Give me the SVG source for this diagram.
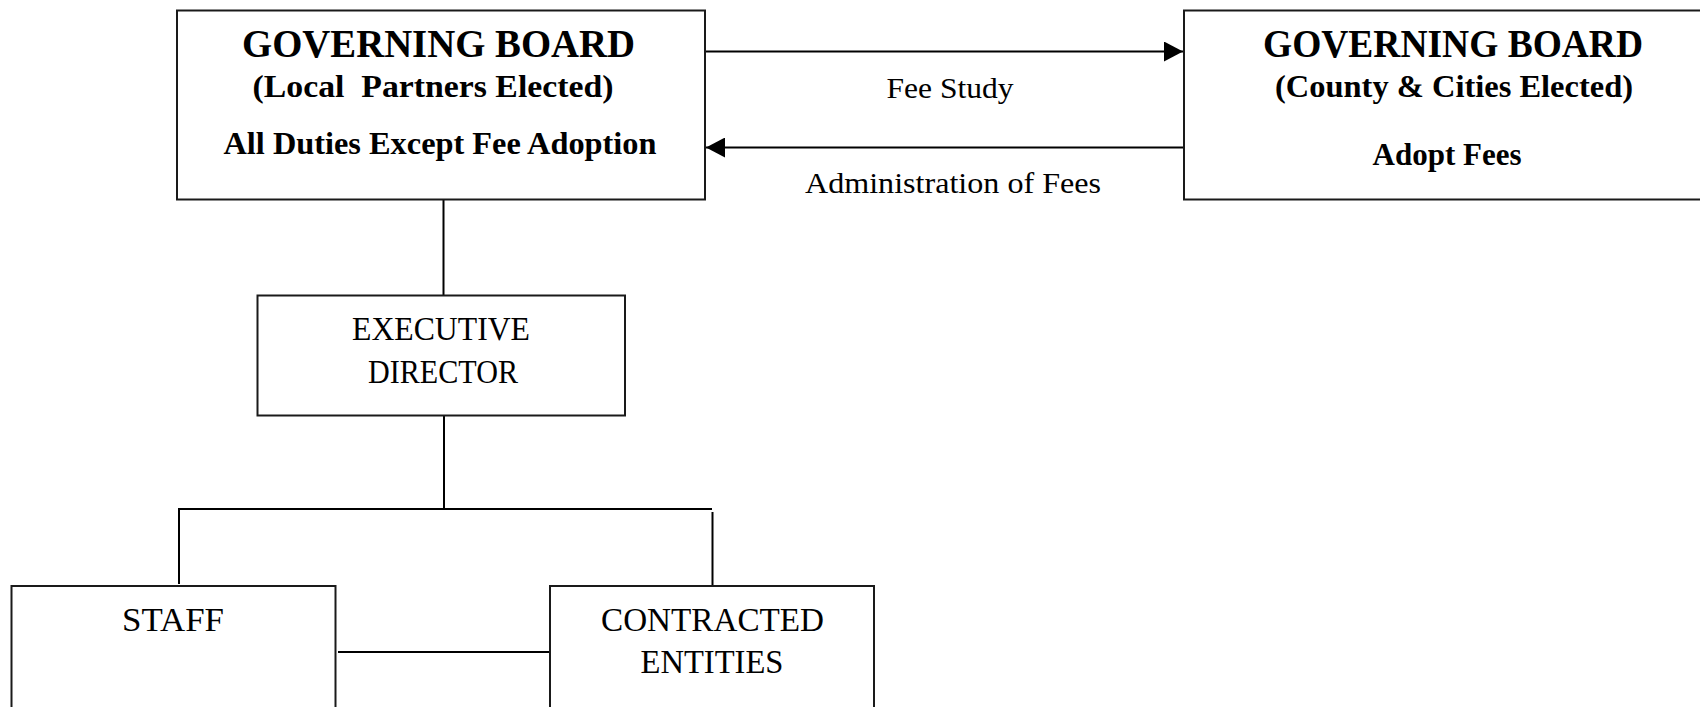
<svg xmlns="http://www.w3.org/2000/svg" width="1700" height="707" viewBox="0 0 1700 707">
  <style>
    .box { fill: #ffffff; stroke: #1a1a1a; stroke-width: 2; }
    .ln { stroke: #000000; stroke-width: 2; fill: none; }
    .t { font-family: "Liberation Serif", "Times New Roman", serif; fill: #000000; text-anchor: middle; }
    .b { font-weight: bold; }
    .big { font-size: 39px; }
    .mid { font-size: 32px; }
    .reg { font-size: 33px; }
    .lbl { font-size: 30px; }
  </style>
  <defs>
    <marker id="arrow" markerWidth="20" markerHeight="20" refX="19" refY="10" orient="auto" markerUnits="userSpaceOnUse">
      <path d="M0,0 L19,10 L0,20 Z" fill="#000000"/>
    </marker>
  </defs>
  <rect width="1700" height="707" fill="#ffffff"/>

  <g id="connectors">
    <line class="ln" x1="705" y1="51.5" x2="1183" y2="51.5" marker-end="url(#arrow)"/>
    <line class="ln" x1="1184" y1="147.5" x2="706" y2="147.5" marker-end="url(#arrow)"/>
    <line class="ln" x1="443.5" y1="200" x2="443.5" y2="295"/>
    <line class="ln" x1="444" y1="416" x2="444" y2="510"/>
    <line class="ln" x1="178" y1="509" x2="712" y2="509"/>
    <line class="ln" x1="179" y1="508" x2="179" y2="584"/>
    <line class="ln" x1="712.5" y1="512" x2="712.5" y2="586"/>
    <line class="ln" x1="338" y1="652" x2="550" y2="652"/>
    <text class="t lbl" x="950" y="98" textLength="127" lengthAdjust="spacingAndGlyphs">Fee Study</text>
    <text class="t lbl" x="953" y="193" textLength="296" lengthAdjust="spacingAndGlyphs">Administration of Fees</text>
  </g>

  <g id="board-local">
    <rect class="box" x="177" y="10.5" width="528" height="189"/>
    <text class="t b big" x="438.5" y="57" textLength="393" lengthAdjust="spacingAndGlyphs">GOVERNING BOARD</text>
    <text class="t b mid" x="433" y="97" textLength="361" lengthAdjust="spacingAndGlyphs" xml:space="preserve">(Local  Partners Elected)</text>
    <text class="t b mid" x="440" y="154" textLength="433" lengthAdjust="spacingAndGlyphs">All Duties Except Fee Adoption</text>
  </g>

  <g id="board-county">
    <rect class="box" x="1184" y="10.5" width="530" height="189"/>
    <text class="t b big" x="1453" y="57" textLength="380" lengthAdjust="spacingAndGlyphs">GOVERNING BOARD</text>
    <text class="t b mid" x="1454" y="97" textLength="358" lengthAdjust="spacingAndGlyphs">(County &amp; Cities Elected)</text>
    <text class="t b mid" x="1447" y="165" textLength="149" lengthAdjust="spacingAndGlyphs">Adopt Fees</text>
  </g>

  <g id="executive-director">
    <rect class="box" x="257.5" y="295.5" width="367.5" height="120"/>
    <text class="t reg" x="441" y="340" textLength="178" lengthAdjust="spacingAndGlyphs">EXECUTIVE</text>
    <text class="t reg" x="443" y="383" textLength="150" lengthAdjust="spacingAndGlyphs">DIRECTOR</text>
  </g>

  <g id="staff">
    <rect class="box" x="11.5" y="586" width="324" height="140"/>
    <text class="t reg" x="173" y="631" textLength="102" lengthAdjust="spacingAndGlyphs">STAFF</text>
  </g>

  <g id="contracted-entities">
    <rect class="box" x="550" y="586" width="324" height="140"/>
    <text class="t reg" x="712.5" y="631" textLength="223" lengthAdjust="spacingAndGlyphs">CONTRACTED</text>
    <text class="t reg" x="712" y="673" textLength="143" lengthAdjust="spacingAndGlyphs">ENTITIES</text>
  </g>
</svg>
